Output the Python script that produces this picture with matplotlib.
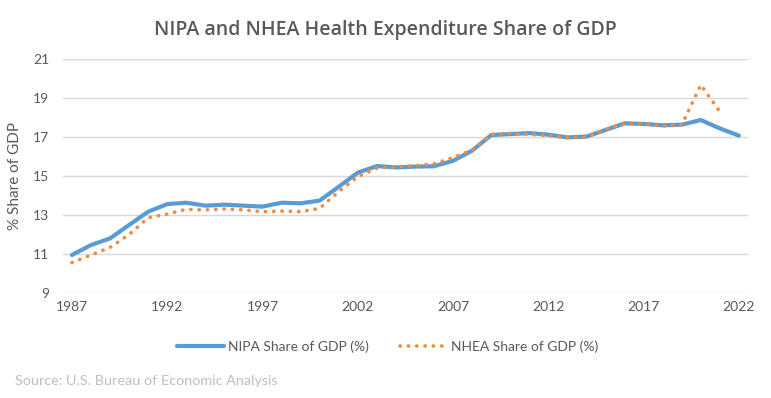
import numpy as np
import matplotlib.pyplot as plt

# Data
years = list(range(1987, 2023))
nipa = [10.95, 11.46, 11.8, 12.49, 13.17, 13.56, 13.63, 13.48, 13.53, 13.48,
        13.43, 13.63, 13.6, 13.74, 14.45, 15.17, 15.51, 15.44, 15.48, 15.5,
        15.78, 16.3, 17.1, 17.15, 17.2, 17.12, 16.98, 17.02, 17.36, 17.7,
        17.67, 17.6, 17.63, 17.87, 17.44, 17.07]
nhea_years = list(range(1987, 2022))
nhea = [10.56, 10.95, 11.34, 12.0, 12.86, 13.05, 13.29, 13.26, 13.31, 13.26,
        13.17, 13.2, 13.17, 13.34, 14.2, 14.97, 15.4, 15.48, 15.53, 15.62,
        15.95, 16.33, 17.13, 17.19, 17.13, 17.08, 16.96, 17.0, 17.39, 17.7,
        17.68, 17.56, 17.62, 19.67, 18.3]
xticks = [1987, 1992, 1997, 2002, 2007, 2012, 2017, 2022]
yticks = [9, 11, 13, 15, 17, 19, 21]

plt.rcParams['font.family'] = ['Lato', 'DejaVu Sans']

fig = plt.figure(figsize=(7.71, 3.98), dpi=100)
ax = fig.add_axes([0.0817, 0.2638, 0.970 - 0.0817, 0.8518 - 0.2638])

ax.plot(years, nipa, color='#5B9BD5', linewidth=3.0, solid_capstyle='round',
        label='NIPA Share of GDP (%)', zorder=3)
ax.plot(nhea_years, nhea, color='#F28C3A', linewidth=2.6,
        linestyle=(0, (0.1, 2.2)), dash_capstyle='round',
        label='NHEA Share of GDP (%)', zorder=4)

ax.set_xlim(1986.53, 2022.47)
ax.set_ylim(9, 21)
ax.set_xticks(xticks)
ax.set_yticks(yticks)
ax.grid(axis='y', color='#d9d9d9', linewidth=1)
ax.set_axisbelow(True)
for s in ax.spines.values():
    s.set_visible(False)
ax.tick_params(length=0, labelsize=10, labelcolor='#595959', pad=6)
ax.tick_params(axis='y', pad=10)
ax.set_ylabel('% Share of GDP', fontsize=11, color='#595959', labelpad=8)

fig.text(0.5, 0.925, 'NIPA and NHEA Health Expenditure Share of GDP',
         ha='center', va='center', fontsize=14, color='#595959',
         family=['Open Sans', 'DejaVu Sans'], fontweight='semibold')

fig.legend(loc='center', bbox_to_anchor=(0.503, 0.128), ncol=2, frameon=False,
           fontsize=10, labelcolor='#595959', handlelength=3.4,
           columnspacing=2.2, handletextpad=0.3)

fig.text(0.02, 0.043, 'Source: U.S. Bureau of Economic Analysis',
         ha='left', va='center', fontsize=10.4, color='#bfbfbf')

fig.savefig('out.png', dpi=100)
